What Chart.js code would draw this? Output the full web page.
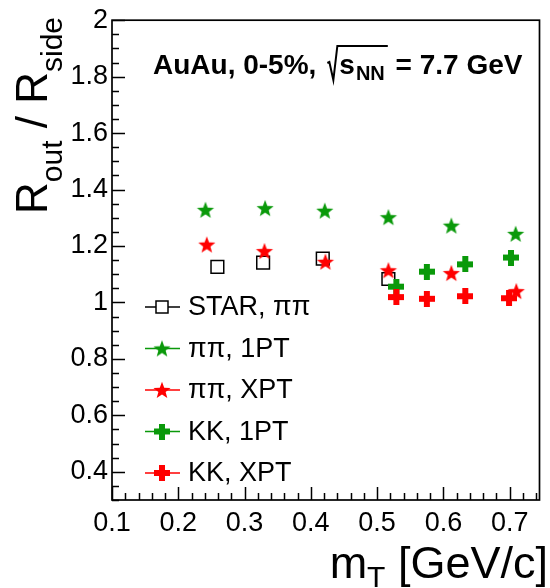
<!DOCTYPE html>
<html>
<head>
<meta charset="UTF-8" />
<title>Rout / Rside vs mT</title>
<script src="https://cdn.jsdelivr.net/npm/chart.js"></script>
<style>
  body { margin: 0; background: #fff; }
  #wrap { width: 550px; height: 588px; }
</style>
</head>
<body>
<div id="wrap"><canvas id="ratioChart"></canvas></div>
<script>
  // STAR, pi pi
  const starMt = [0.259, 0.328, 0.418, 0.517];
  const starRatio = [1.126, 1.141, 1.155, 1.083];
  // pi pi, 1PT / XPT
  const pionMt1pt = [0.241, 0.331, 0.421, 0.517, 0.612, 0.709];
  const pionRatio1pt = [1.328, 1.334, 1.325, 1.302, 1.272, 1.243];
  const pionMtXpt = [0.243, 0.330, 0.422, 0.517, 0.612, 0.710];
  const pionRatioXpt = [1.205, 1.182, 1.144, 1.114, 1.104, 1.040];
  // KK, 1PT / XPT
  const kaonMt1pt = [0.529, 0.575, 0.633, 0.702];
  const kaonRatio1pt = [1.056, 1.109, 1.135, 1.159];
  const kaonMtXpt = [0.529, 0.575, 0.633, 0.699];
  const kaonRatioXpt = [1.019, 1.013, 1.022, 1.015];

  const xTicks = [0.1, 0.2, 0.3, 0.4, 0.5, 0.6, 0.7];
  const yTicks = [0.4, 0.6, 0.8, 1.0, 1.2, 1.4, 1.6, 1.8, 2.0];
  const legendNames = ['STAR, \u03c0\u03c0', '\u03c0\u03c0, 1PT', '\u03c0\u03c0, XPT', 'KK, 1PT', 'KK, XPT'];

  const FONT = '"Liberation Sans", Arial, Helvetica, sans-serif';
  const GREEN = '#0a990a';
  const RED = '#ff0000';

  function starMarker(color) {
    const c = document.createElement('canvas');
    c.width = 20; c.height = 20;
    const g = c.getContext('2d');
    const R = 9, r = 3.8, cx = 10, cy = 10.8;
    g.beginPath();
    for (let i = 0; i < 10; i++) {
      const rad = i % 2 ? r : R;
      const a = -Math.PI / 2 + i * Math.PI / 5;
      g.lineTo(cx + rad * Math.cos(a), cy + rad * Math.sin(a));
    }
    g.closePath();
    g.fillStyle = color;
    g.fill();
    return c;
  }

  function plusMarker(color) {
    const c = document.createElement('canvas');
    c.width = 16; c.height = 16;
    const g = c.getContext('2d');
    g.fillStyle = color;
    g.fillRect(5, 0, 6, 16);
    g.fillRect(0, 5, 16, 6);
    return c;
  }

  const greenStar = starMarker(GREEN);
  const redStar = starMarker(RED);
  const greenPlus = plusMarker(GREEN);
  const redPlus = plusMarker(RED);

  const pts = (xs, ys) => xs.map((x, i) => ({ x: x, y: ys[i] }));

  const rootFrame = {
    id: 'rootFrame',
    afterDraw(chart) {
      const ctx = chart.ctx;
      const a = chart.chartArea;
      const x = chart.scales.x, y = chart.scales.y;
      ctx.save();
      ctx.strokeStyle = '#000';
      ctx.lineWidth = 1.7;
      ctx.strokeRect(a.left, a.top, a.right - a.left, a.bottom - a.top);

      // ticks pointing inside, ROOT style
      ctx.lineWidth = 1.5;
      ctx.beginPath();
      for (let k = 6; k <= 40; k++) {
        const py = Math.round(y.getPixelForValue(k * 0.05)) + 0.5;
        const len = k % 4 === 0 ? 13 : 7;
        ctx.moveTo(a.left, py);
        ctx.lineTo(a.left + len, py);
      }
      for (let k = 5; k <= 37; k++) {
        const px = Math.round(x.getPixelForValue(k * 0.02)) + 0.5;
        const len = k % 5 === 0 ? 13 : 7;
        ctx.moveTo(px, a.bottom);
        ctx.lineTo(px, a.bottom - len);
      }
      ctx.stroke();

      // legend
      const markers = [null, greenStar, redStar, greenPlus, redPlus];
      const colors = ['#000', GREEN, RED, GREEN, RED];
      ctx.font = '27px ' + FONT;
      ctx.textBaseline = 'middle';
      legendNames.forEach((name, i) => {
        const ly = 307 + i * 41.5;
        ctx.strokeStyle = colors[i];
        ctx.lineWidth = 1.5;
        ctx.beginPath();
        ctx.moveTo(145, ly); ctx.lineTo(180, ly);
        ctx.stroke();
        if (markers[i]) {
          const m = markers[i];
          ctx.drawImage(m, 162 - m.width / 2, ly - m.height / 2);
        } else {
          ctx.fillStyle = '#fff';
          ctx.fillRect(156, ly - 6, 12, 12);
          ctx.strokeStyle = '#000';
          ctx.strokeRect(156, ly - 6, 12, 12);
        }
        ctx.fillStyle = '#000';
        ctx.fillText(name, 188, ly + 1);
      });

      // annotation
      ctx.textBaseline = 'alphabetic';
      ctx.fillStyle = '#000';
      ctx.font = 'bold 28px ' + FONT;
      let tx = 153;
      const ty = 74;
      ctx.fillText('AuAu, 0-5%,', tx, ty);
      tx += ctx.measureText('AuAu, 0-5%,').width + 11;
      const sx = tx;
      tx += 12;
      ctx.fillText('s', tx, ty);
      tx += ctx.measureText('s').width + 1;
      ctx.font = 'bold 20px ' + FONT;
      ctx.fillText('NN', tx, ty + 6);
      tx += ctx.measureText('NN').width + 3;
      ctx.lineWidth = 2;
      ctx.strokeStyle = '#000';
      ctx.beginPath();
      ctx.moveTo(sx, ty - 11);
      ctx.lineTo(sx + 2, ty - 12);
      ctx.lineTo(sx + 6, ty + 6);
      ctx.lineTo(sx + 10, ty - 28);
      ctx.lineTo(tx, ty - 28);
      ctx.stroke();
      ctx.font = 'bold 28px ' + FONT;
      ctx.fillText(' = 7.7 GeV', tx, ty);

      // x title
      ctx.font = '45px ' + FONT;
      const wm = ctx.measureText('m').width;
      const wr = ctx.measureText(' [GeV/c]').width;
      ctx.font = '30px ' + FONT;
      const wt = ctx.measureText('T').width;
      let xx = 548 - wm - wt - wr;
      ctx.font = '45px ' + FONT;
      ctx.fillText('m', xx, 578);
      xx += wm;
      ctx.font = '30px ' + FONT;
      ctx.fillText('T', xx, 587);
      xx += wt;
      ctx.font = '45px ' + FONT;
      ctx.fillText(' [GeV/c]', xx, 578);

      // y title, rotated
      ctx.save();
      ctx.translate(47, 0);
      ctx.rotate(-Math.PI / 2);
      const parts = [['R', 44, 0], ['out', 30, 15], [' / ', 44, 0], ['R', 44, 0], ['side', 30, 15]];
      let total = 0;
      parts.forEach(p => { ctx.font = p[1] + 'px ' + FONT; total += ctx.measureText(p[0]).width; });
      let u = -17 - total;
      parts.forEach(p => {
        ctx.font = p[1] + 'px ' + FONT;
        ctx.fillText(p[0], u, p[2]);
        u += ctx.measureText(p[0]).width;
      });
      ctx.restore();

      ctx.restore();
    }
  };

  new Chart(document.getElementById('ratioChart'), {
    type: 'scatter',
    data: {
      datasets: [
        { label: legendNames[0], data: pts(starMt, starRatio), order: 5,
          pointStyle: 'rect', pointRadius: 9, pointBorderWidth: 1.5,
          pointBorderColor: '#000', pointBackgroundColor: 'rgba(0,0,0,0)' },
        { label: legendNames[1], data: pts(pionMt1pt, pionRatio1pt), order: 4,
          pointStyle: greenStar, pointRadius: 9 },
        { label: legendNames[2], data: pts(pionMtXpt, pionRatioXpt), order: 3,
          pointStyle: redStar, pointRadius: 9 },
        { label: legendNames[3], data: pts(kaonMt1pt, kaonRatio1pt), order: 2,
          pointStyle: greenPlus, pointRadius: 8 },
        { label: legendNames[4], data: pts(kaonMtXpt, kaonRatioXpt), order: 1,
          pointStyle: redPlus, pointRadius: 8 }
      ]
    },
    options: {
      responsive: true,
      maintainAspectRatio: false,
      animation: false,
      layout: { padding: { top: 15, right: 3, left: 0, bottom: 0 } },
      plugins: { legend: { display: false }, tooltip: { enabled: false } },
      scales: {
        x: {
          type: 'linear', min: 0.1, max: 0.745,
          afterBuildTicks: ax => { ax.ticks = xTicks.map(v => ({ value: v })); },
          afterFit: ax => { ax.height = 88; },
          grid: { display: false, drawTicks: false },
          border: { display: false },
          ticks: {
            color: '#000', padding: 7, maxRotation: 0, autoSkip: false,
            font: { family: FONT, size: 27 },
            callback: v => v.toFixed(1)
          }
        },
        y: {
          type: 'linear', min: 0.3, max: 2.0,
          afterBuildTicks: ax => { ax.ticks = yTicks.map(v => ({ value: v })); },
          afterFit: ax => { ax.width = 112; },
          grid: { display: false, drawTicks: false },
          border: { display: false },
          ticks: {
            color: '#000', padding: 4, autoSkip: false,
            font: { family: FONT, size: 27 },
            callback: v => String(Math.round(v * 10) / 10)
          }
        }
      }
    },
    plugins: [rootFrame]
  });
</script>
</body>
</html>
